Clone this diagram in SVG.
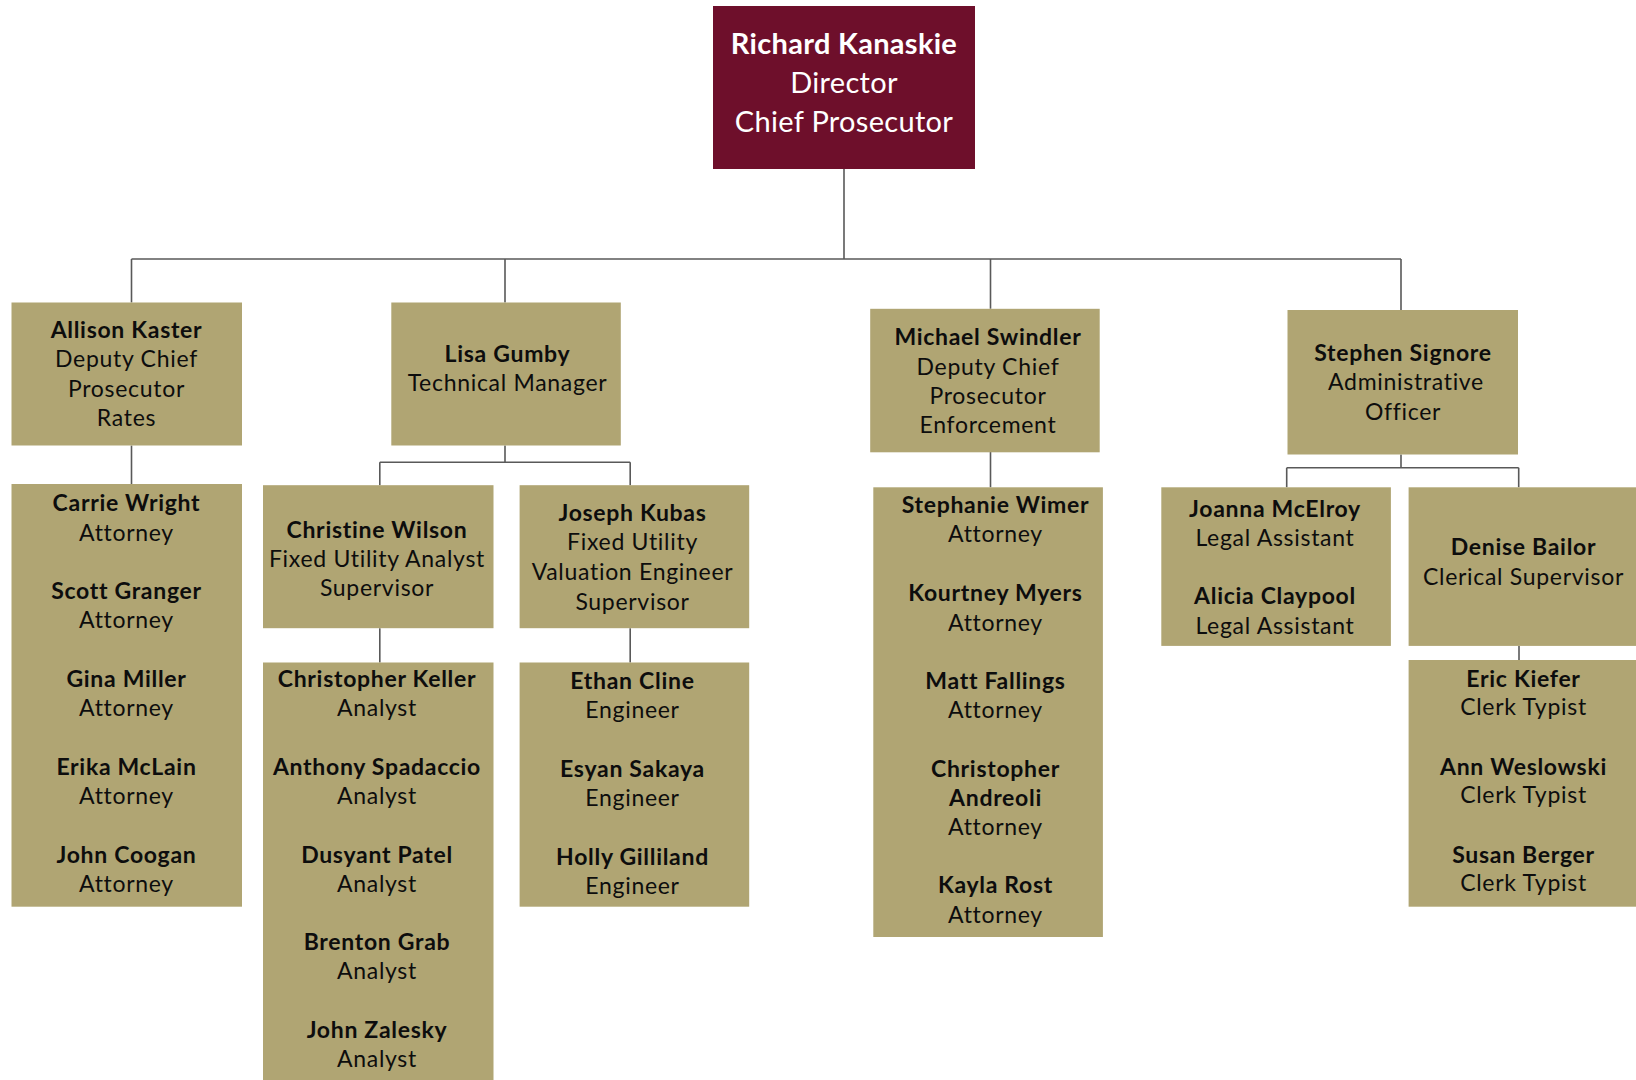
<svg xmlns="http://www.w3.org/2000/svg" width="1636" height="1080" viewBox="0 0 1636 1080">
<style>
.box{fill:#B0A573}
.dir{fill:#6E0F2B}
.t{font-family:Lato,"Open Sans","Liberation Sans",sans-serif;font-size:23px;fill:#0d0d0d;text-anchor:middle;letter-spacing:0.7px}
.b{font-weight:bold}
.w{fill:#ffffff;font-size:29px;letter-spacing:0.3px}
.c{fill:none;stroke:#595959;stroke-width:1.6}
</style>
<rect width="1636" height="1080" fill="#ffffff"/>
<g id="connectors">
<path class="c" d="M844 169 V259 M131.5 259 H1401 M131.5 259 V302.5 M505 259 V302.5 M990.5 259 V308.8 M1401 259 V310"/>
<path class="c" d="M131.5 445.5 V484"/>
<path class="c" d="M505 445.5 V462.2 M379.8 462.2 H630.2 M379.8 462.2 V485.2 M630.2 462.2 V485.2"/>
<path class="c" d="M379.8 628.2 V662.5 M630.2 628.2 V662.5"/>
<path class="c" d="M990.5 451.8 V487.3"/>
<path class="c" d="M1401 454.5 V467.7 M1286.7 467.7 H1518.7 M1286.7 467.7 V487.3 M1518.7 467.7 V487.3"/>
<path class="c" d="M1519 645.9 V660"/>
</g>
<g id="director">
<rect class="dir" x="713" y="6" width="262" height="163"/>
<text class="t w" x="844" y="54"><tspan class="b">Richard Kanaskie</tspan><tspan x="844" y="92.8">Director</tspan><tspan x="844" y="131.6">Chief Prosecutor</tspan></text>
</g>
<g id="allison">
<rect class="box" x="11.5" y="302.5" width="230.5" height="143"/>
<text class="t" x="126.5" y="338.2"><tspan class="b">Allison Kaster</tspan><tspan x="126.5" y="367.4">Deputy Chief</tspan><tspan x="126.5" y="396.6">Prosecutor</tspan><tspan x="126.5" y="425.9">Rates</tspan></text>
</g>
<g id="lisa">
<rect class="box" x="391.3" y="302.5" width="229.5" height="143"/>
<text class="t" x="507.5" y="362.2"><tspan class="b">Lisa Gumby</tspan><tspan x="507.5" y="391.4">Technical Manager</tspan></text>
</g>
<g id="michael">
<rect class="box" x="870.2" y="308.8" width="229.5" height="143.5"/>
<text class="t" x="988" y="344.5"><tspan class="b">Michael Swindler</tspan><tspan x="988" y="374.7">Deputy Chief</tspan><tspan x="988" y="404">Prosecutor</tspan><tspan x="988" y="433.2">Enforcement</tspan></text>
</g>
<g id="stephen">
<rect class="box" x="1287.5" y="310" width="230.5" height="144.5"/>
<text class="t" x="1403" y="361.2"><tspan class="b">Stephen Signore</tspan><tspan x="1406" y="390.4">Administrative</tspan><tspan x="1403" y="419.6">Officer</tspan></text>
</g>
<g id="rates-attorneys">
<rect class="box" x="11.5" y="484" width="230.5" height="422.7"/>
<text class="t" x="126.5" y="511.4"><tspan class="b">Carrie Wright</tspan><tspan x="126.5" y="540.6">Attorney</tspan><tspan class="b" x="126.5" y="599.1">Scott Granger</tspan><tspan x="126.5" y="628.3">Attorney</tspan><tspan class="b" x="126.5" y="686.7">Gina Miller</tspan><tspan x="126.5" y="715.9">Attorney</tspan><tspan class="b" x="126.5" y="775.2">Erika McLain</tspan><tspan x="126.5" y="804.4">Attorney</tspan><tspan class="b" x="126.5" y="863">John Coogan</tspan><tspan x="126.5" y="892.2">Attorney</tspan></text>
</g>
<g id="christine">
<rect class="box" x="263" y="485.2" width="230.5" height="143"/>
<text class="t" x="377" y="537.5"><tspan class="b">Christine Wilson</tspan><tspan x="377" y="566.7">Fixed Utility Analyst</tspan><tspan x="377" y="596">Supervisor</tspan></text>
</g>
<g id="joseph">
<rect class="box" x="519.6" y="485.2" width="229.6" height="143"/>
<text class="t" x="632.5" y="520.8"><tspan class="b">Joseph Kubas</tspan><tspan x="632.5" y="550">Fixed Utility</tspan><tspan x="632.5" y="580.3">Valuation Engineer</tspan><tspan x="632.5" y="609.5">Supervisor</tspan></text>
</g>
<g id="analysts">
<rect class="box" x="263" y="662.5" width="230.5" height="420"/>
<text class="t" x="377" y="686.7"><tspan class="b">Christopher Keller</tspan><tspan x="377" y="716">Analyst</tspan><tspan class="b" x="377" y="775">Anthony Spadaccio</tspan><tspan x="377" y="804.2">Analyst</tspan><tspan class="b" x="377" y="862.5">Dusyant Patel</tspan><tspan x="377" y="891.7">Analyst</tspan><tspan class="b" x="377" y="950">Brenton Grab</tspan><tspan x="377" y="979.2">Analyst</tspan><tspan class="b" x="377" y="1037.7">John Zalesky</tspan><tspan x="377" y="1066.6">Analyst</tspan></text>
</g>
<g id="engineers">
<rect class="box" x="519.6" y="662.5" width="229.6" height="244.2"/>
<text class="t" x="632.5" y="689"><tspan class="b">Ethan Cline</tspan><tspan x="632.5" y="718">Engineer</tspan><tspan class="b" x="632.5" y="776.5">Esyan Sakaya</tspan><tspan x="632.5" y="805.7">Engineer</tspan><tspan class="b" x="632.5" y="865">Holly Gilliland</tspan><tspan x="632.5" y="894.3">Engineer</tspan></text>
</g>
<g id="enforcement-attorneys">
<rect class="box" x="873.3" y="487.3" width="229.6" height="449.7"/>
<text class="t" x="995.5" y="513.4"><tspan class="b">Stephanie Wimer</tspan><tspan x="995.5" y="542.4">Attorney</tspan><tspan class="b" x="995.5" y="601.3">Kourtney Myers</tspan><tspan x="995.5" y="630.5">Attorney</tspan><tspan class="b" x="995.5" y="689">Matt Fallings</tspan><tspan x="995.5" y="718.2">Attorney</tspan><tspan class="b" x="995.5" y="776.6">Christopher</tspan><tspan class="b" x="995.5" y="805.8">Andreoli</tspan><tspan x="995.5" y="835">Attorney</tspan><tspan class="b" x="995.5" y="893.4">Kayla Rost</tspan><tspan x="995.5" y="922.6">Attorney</tspan></text>
</g>
<g id="legal-assistants">
<rect class="box" x="1161.3" y="487.3" width="229.6" height="158.6"/>
<text class="t" x="1275" y="516.6"><tspan class="b">Joanna McElroy</tspan><tspan x="1275" y="545.8">Legal Assistant</tspan><tspan class="b" x="1275" y="604.3">Alicia Claypool</tspan><tspan x="1275" y="633.5">Legal Assistant</tspan></text>
</g>
<g id="denise">
<rect class="box" x="1408.6" y="487.3" width="231" height="158.6"/>
<text class="t" x="1523.5" y="555.2"><tspan class="b">Denise Bailor</tspan><tspan x="1523.5" y="584.5">Clerical Supervisor</tspan></text>
</g>
<g id="clerks">
<rect class="box" x="1408.6" y="660" width="231" height="246.7"/>
<text class="t" x="1523.5" y="686.7"><tspan class="b">Eric Kiefer</tspan><tspan x="1523.5" y="715">Clerk Typist</tspan><tspan class="b" x="1523.5" y="775">Ann Weslowski</tspan><tspan x="1523.5" y="803.3">Clerk Typist</tspan><tspan class="b" x="1523.5" y="862.7">Susan Berger</tspan><tspan x="1523.5" y="890.7">Clerk Typist</tspan></text>
</g>
</svg>
